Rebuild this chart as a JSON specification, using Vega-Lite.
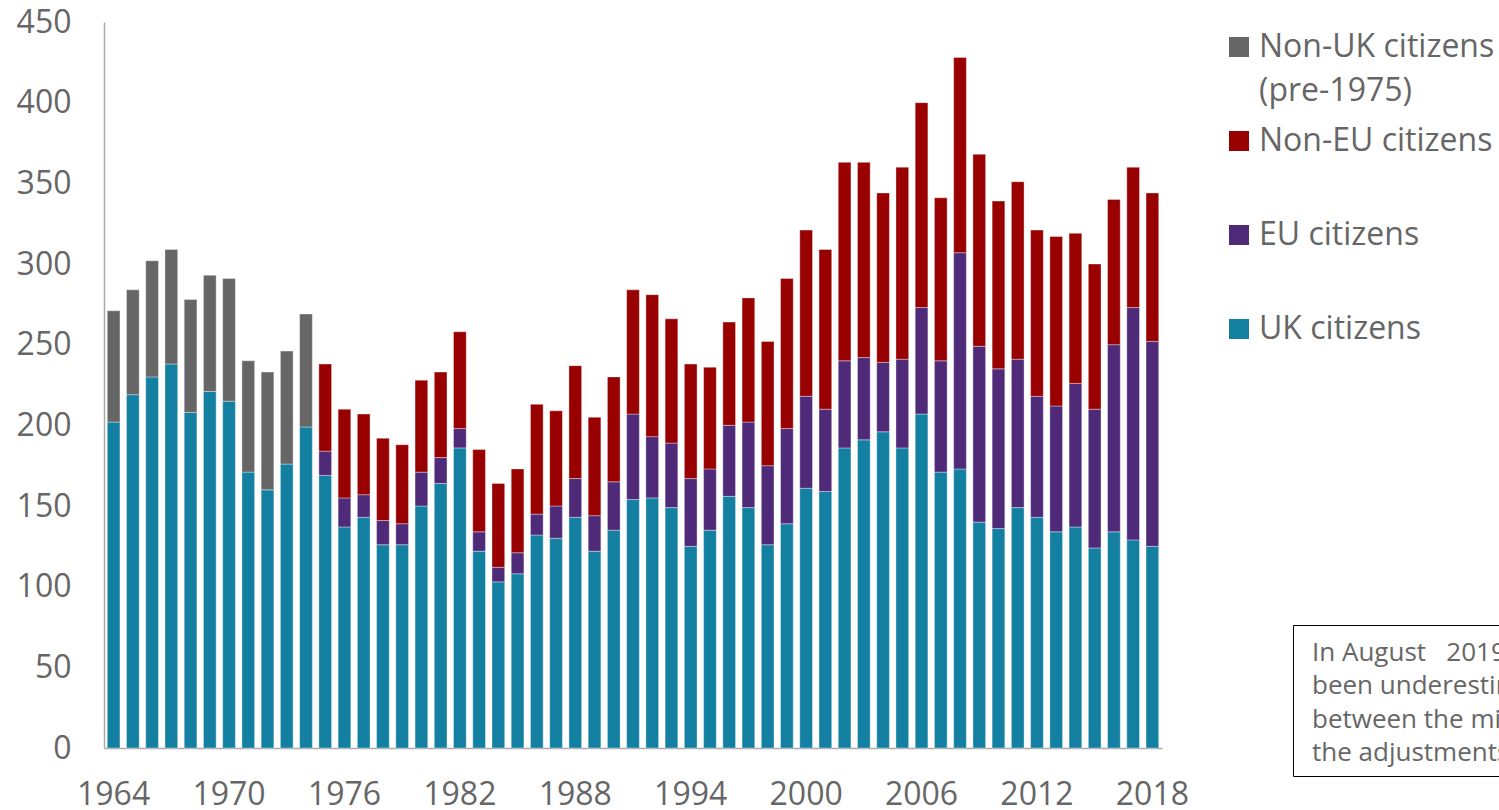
{
  "$schema": "https://vega.github.io/schema/vega-lite/v6.json",
  "width": 1058,
  "height": 726,
  "autosize": {"type": "none"},
  "padding": {"left": 104, "top": 22, "right": 337, "bottom": 62},
  "background": "white",
  "data": {
    "values": [
      {"year": 1964, "uk": 202, "nonuk": 69},
      {"year": 1965, "uk": 219, "nonuk": 65},
      {"year": 1966, "uk": 230, "nonuk": 72},
      {"year": 1967, "uk": 238, "nonuk": 71},
      {"year": 1968, "uk": 208, "nonuk": 70},
      {"year": 1969, "uk": 221, "nonuk": 72},
      {"year": 1970, "uk": 215, "nonuk": 76},
      {"year": 1971, "uk": 171, "nonuk": 69},
      {"year": 1972, "uk": 160, "nonuk": 73},
      {"year": 1973, "uk": 176, "nonuk": 70},
      {"year": 1974, "uk": 199, "nonuk": 70},
      {"year": 1975, "uk": 169, "eu": 15, "noneu": 54},
      {"year": 1976, "uk": 137, "eu": 18, "noneu": 55},
      {"year": 1977, "uk": 143, "eu": 14, "noneu": 50},
      {"year": 1978, "uk": 126, "eu": 15, "noneu": 51},
      {"year": 1979, "uk": 126, "eu": 13, "noneu": 49},
      {"year": 1980, "uk": 150, "eu": 21, "noneu": 57},
      {"year": 1981, "uk": 164, "eu": 16, "noneu": 53},
      {"year": 1982, "uk": 186, "eu": 12, "noneu": 60},
      {"year": 1983, "uk": 122, "eu": 12, "noneu": 51},
      {"year": 1984, "uk": 103, "eu": 9, "noneu": 52},
      {"year": 1985, "uk": 108, "eu": 13, "noneu": 52},
      {"year": 1986, "uk": 132, "eu": 13, "noneu": 68},
      {"year": 1987, "uk": 130, "eu": 20, "noneu": 59},
      {"year": 1988, "uk": 143, "eu": 24, "noneu": 70},
      {"year": 1989, "uk": 122, "eu": 22, "noneu": 61},
      {"year": 1990, "uk": 135, "eu": 30, "noneu": 65},
      {"year": 1991, "uk": 154, "eu": 53, "noneu": 77},
      {"year": 1992, "uk": 155, "eu": 38, "noneu": 88},
      {"year": 1993, "uk": 149, "eu": 40, "noneu": 77},
      {"year": 1994, "uk": 125, "eu": 42, "noneu": 71},
      {"year": 1995, "uk": 135, "eu": 38, "noneu": 63},
      {"year": 1996, "uk": 156, "eu": 44, "noneu": 64},
      {"year": 1997, "uk": 149, "eu": 53, "noneu": 77},
      {"year": 1998, "uk": 126, "eu": 49, "noneu": 77},
      {"year": 1999, "uk": 139, "eu": 59, "noneu": 93},
      {"year": 2000, "uk": 161, "eu": 57, "noneu": 103},
      {"year": 2001, "uk": 159, "eu": 51, "noneu": 99},
      {"year": 2002, "uk": 186, "eu": 54, "noneu": 123},
      {"year": 2003, "uk": 191, "eu": 51, "noneu": 121},
      {"year": 2004, "uk": 196, "eu": 43, "noneu": 105},
      {"year": 2005, "uk": 186, "eu": 55, "noneu": 119},
      {"year": 2006, "uk": 207, "eu": 66, "noneu": 127},
      {"year": 2007, "uk": 171, "eu": 69, "noneu": 101},
      {"year": 2008, "uk": 173, "eu": 134, "noneu": 121},
      {"year": 2009, "uk": 140, "eu": 109, "noneu": 119},
      {"year": 2010, "uk": 136, "eu": 99, "noneu": 104},
      {"year": 2011, "uk": 149, "eu": 92, "noneu": 110},
      {"year": 2012, "uk": 143, "eu": 75, "noneu": 103},
      {"year": 2013, "uk": 134, "eu": 78, "noneu": 105},
      {"year": 2014, "uk": 137, "eu": 89, "noneu": 93},
      {"year": 2015, "uk": 124, "eu": 86, "noneu": 90},
      {"year": 2016, "uk": 134, "eu": 116, "noneu": 90},
      {"year": 2017, "uk": 129, "eu": 144, "noneu": 87},
      {"year": 2018, "uk": 125, "eu": 127, "noneu": 92}
    ]
  },
  "transform": [
    {"fold": ["uk", "eu", "noneu", "nonuk"], "as": ["key", "value"]},
    {"filter": "isValid(datum.value)"},
    {"calculate": "indexof(['uk','eu','noneu','nonuk'], datum.key)", "as": "ord"}
  ],
  "mark": {"type": "bar", "stroke": "white", "strokeWidth": 0.6, "strokeOpacity": 0.6},
  "encoding": {
    "x": {
      "field": "year",
      "type": "ordinal",
      "scale": {"paddingInner": 0.34, "paddingOuter": 0.17},
      "axis": {
        "title": null,
        "values": [1964, 1970, 1976, 1982, 1988, 1994, 2000, 2006, 2012, 2018],
        "labelAngle": 0,
        "ticks": false,
        "tickSize": 0,
        "domainColor": "#aaaaaa",
        "domainWidth": 1.5,
        "labelFontSize": 32,
        "labelColor": "#666666",
        "labelPadding": 31,
        "labelOverlap": false,
        "labelFlush": false
      }
    },
    "y": {
      "field": "value",
      "type": "quantitative",
      "stack": "zero",
      "scale": {"domain": [0, 450], "nice": false},
      "axis": {
        "title": null,
        "values": [0, 50, 100, 150, 200, 250, 300, 350, 400, 450],
        "grid": false,
        "ticks": false,
        "tickSize": 0,
        "domainColor": "#aaaaaa",
        "domainWidth": 1.5,
        "labelFontSize": 32,
        "labelColor": "#666666",
        "labelPadding": 33,
        "labelFlush": false,
        "labelOverlap": false
      }
    },
    "color": {
      "field": "key",
      "type": "nominal",
      "scale": {
        "domain": ["nonuk", "noneu", "eu", "uk"],
        "range": ["#666666", "#990000", "#4e2a78", "#1380a1"]
      },
      "legend": {
        "orient": "none",
        "legendX": 1119,
        "legendY": 9,
        "title": null,
        "symbolType": "square",
        "symbolSize": 400,
        "symbolStrokeWidth": 0,
        "symbolOpacity": 1,
        "labelFontSize": 32,
        "labelColor": "#666666",
        "labelOffset": 4,
        "labelLimit": 500,
        "rowPadding": 18,
        "gridAlign": "all",
        "labelExpr": "datum.value == 'nonuk' ? ['Non-UK citizens', '(pre-1975)'] : datum.value == 'noneu' ? 'Non-EU citizens' : datum.value == 'eu' ? 'EU citizens' : 'UK citizens'"
      }
    },
    "order": {"field": "ord", "type": "quantitative"},
    "opacity": {
      "datum": "note",
      "type": "ordinal",
      "scale": {"range": [1]},
      "legend": {
        "orient": "none",
        "legendX": 1189,
        "legendY": 603,
        "title": [
          "In August\u00a0\u00a0 2019 the ONS said migration from the EU may have",
          "been underestimated and non-EU migration overestimated",
          "between the mid-2000s and 2016. These figures do not include",
          "the adjustments."
        ],
        "titleFontSize": 26,
        "titleFontWeight": "normal",
        "titleColor": "#666666",
        "titleLineHeight": 33.4,
        "titleLimit": 3000,
        "titlePadding": 0,
        "padding": 8,
        "strokeColor": "#000000",
        "symbolSize": 0,
        "symbolOpacity": 0,
        "labelFontSize": 0,
        "labelExpr": "''"
      }
    }
  },
  "config": {
    "view": {"stroke": null},
    "font": "Open Sans",
    "style": {
      "guide-label": {"lineHeight": 44},
      "guide-title": {"dx": 11, "dy": 7}
    }
  }
}
